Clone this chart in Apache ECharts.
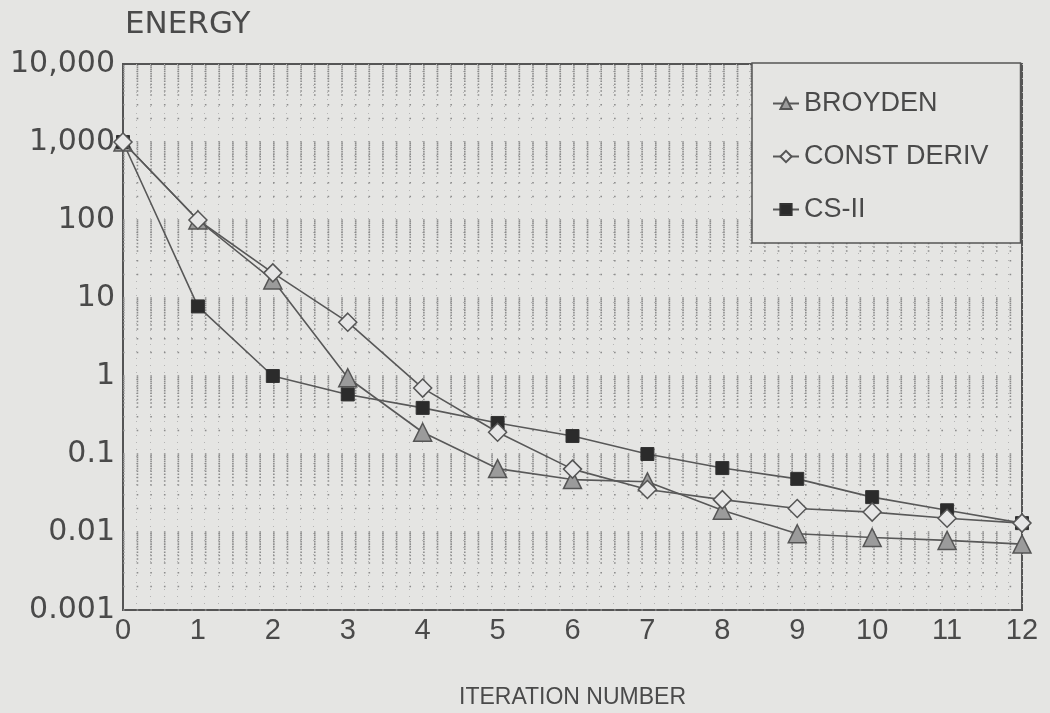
<!DOCTYPE html>
<html>
<head>
<meta charset="utf-8">
<title>Energy vs iteration</title>
<script src="https://cdn.jsdelivr.net/npm/echarts@6/dist/echarts.min.js"></script>
<style>
  html, body { margin: 0; padding: 0; background: #e5e5e3; }
  #chart { width: 1050px; height: 713px; }
</style>
</head>
<body>
<div id="chart"></div>
<script>
  // iteration numbers on the x axis
  const iterations = [0, 1, 2, 3, 4, 5, 6, 7, 8, 9, 10, 11, 12]

  // energy per iteration
  const broyden = [1000, 100, 17, 0.95, 0.19, 0.065, 0.047, 0.044, 0.019, 0.0095, 0.0085, 0.0078, 0.007]
  const constDeriv = [1000, 100, 21, 4.9, 0.7, 0.19, 0.064, 0.035, 0.026, 0.02, 0.018, 0.015, 0.013]
  const csII = [1000, 7.8, 1.0, 0.58, 0.39, 0.25, 0.17, 0.1, 0.066, 0.048, 0.028, 0.019, 0.013]

  // y tick labels
  const yTickValues = [0.001, 0.01, 0.1, 1, 10, 100, 1000, 10000]
  const yTickLabels = ['0.001', '0.01', '0.1', '1', '10', '100', '1,000', '10,000']

  // dotted grid rows inside each decade
  const minorSteps = [1, 2, 3, 4, 4.5, 5, 5.5, 6, 6.5, 7, 7.5, 8, 8.5, 9, 9.5]
  const decades = [0.001, 0.01, 0.1, 1, 10, 100, 1000]

  const gridRows = []
  decades.forEach(d => minorSteps.forEach(k => gridRows.push([0, +(d * k).toPrecision(3)])))

  const ink = '#4a4a4a'
  const lineColor = '#585858'

  const toPairs = arr => arr.map((v, i) => [iterations[i], v])

  const chart = echarts.init(document.getElementById('chart'))

  chart.setOption({
    backgroundColor: '#e5e5e3',
    animation: false,
    grid: {
      left: 123,
      right: 28,
      top: 64,
      bottom: 103,
      outerBoundsMode: 'none',
      containLabel: false,
      show: true,
      borderColor: '#555',
      borderWidth: 2,
      backgroundColor: 'transparent'
    },
    legend: {
      data: ['BROYDEN', 'CONST DERIV', 'CS-II'],
      orient: 'vertical',
      left: 752,
      top: 63,
      padding: [27, 32, 20, 20],
      itemGap: 26,
      itemWidth: 26,
      itemHeight: 14,
      backgroundColor: '#e5e5e3',
      borderColor: '#555',
      borderWidth: 1.5,
      textStyle: {
        fontFamily: 'Liberation Sans',
        fontSize: 27,
        color: ink,
        lineHeight: 26
      }
    },
    xAxis: [
      {
        type: 'value',
        min: 0,
        max: 12,
        interval: 1,
        name: 'ITERATION NUMBER',
        nameLocation: 'middle',
        nameGap: 76,
        nameTextStyle: {
          fontFamily: 'Liberation Sans',
          fontSize: 23,
          color: ink
        },
        axisLine: { lineStyle: { color: '#555', width: 2 } },
        axisTick: { show: false },
        splitLine: { show: false },
        axisLabel: {
          margin: 6,
          fontFamily: 'Liberation Sans',
          fontSize: 29,
          color: ink
        }
      },
      {
        // hidden axis, only used for the dotted columns
        type: 'value',
        min: 0,
        max: 66,
        interval: 1,
        show: true,
        position: 'bottom',
        axisLine: { show: false },
        axisTick: { show: false },
        axisLabel: { show: false },
        splitLine: {
          show: true,
          lineStyle: { color: '#b4b4b4', width: 1, type: [1, 6] }
        }
      }
    ],
    yAxis: {
      type: 'log',
      logBase: 10,
      min: 0.001,
      max: 10000,
      splitNumber: 7,
      name: 'ENERGY',
      nameLocation: 'end',
      nameGap: 24,
      nameTextStyle: {
        align: 'left',
        fontFamily: 'DejaVu Sans',
        fontSize: 31,
        color: ink,
        padding: [0, 0, 0, 2]
      },
      axisLine: { lineStyle: { color: '#555', width: 2 } },
      axisTick: { show: false },
      splitLine: { show: false },
      axisLabel: {
        margin: 8,
        fontFamily: 'DejaVu Sans',
        fontSize: 30,
        color: ink,
        formatter: v => {
          const i = yTickValues.findIndex(t => Math.abs(Math.log10(t) - Math.log10(v)) < 1e-6)
          return i >= 0 ? yTickLabels[i] : ''
        }
      }
    },
    series: [
      {
        name: 'grid-dots',
        type: 'custom',
        silent: true,
        z: 1,
        data: gridRows,
        renderItem: (params, api) => {
          const y = api.coord([0, api.value(1)])[1]
          const cs = params.coordSys
          return {
            type: 'line',
            shape: { x1: cs.x, y1: y, x2: cs.x + cs.width, y2: y },
            style: { stroke: '#8c8c8c', lineWidth: 1.6, lineDash: [1.6, 12.04] }
          }
        }
      },
      {
        name: 'BROYDEN',
        type: 'line',
        data: toPairs(broyden),
        symbol: 'triangle',
        symbolSize: 18,
        z: 3,
        lineStyle: { color: lineColor, width: 1.6 },
        itemStyle: { color: '#9b9b9b', borderColor: '#555', borderWidth: 1.5 }
      },
      {
        name: 'CONST DERIV',
        type: 'line',
        data: toPairs(constDeriv),
        symbol: 'diamond',
        symbolSize: 18,
        z: 4,
        lineStyle: { color: lineColor, width: 1.6 },
        itemStyle: { color: '#e6e6e6', borderColor: '#555', borderWidth: 1.5 }
      },
      {
        name: 'CS-II',
        type: 'line',
        data: toPairs(csII),
        symbol: 'rect',
        symbolSize: 13,
        z: 3,
        lineStyle: { color: lineColor, width: 1.6 },
        itemStyle: { color: '#2b2b2b', borderColor: '#333', borderWidth: 1 }
      }
    ]
  })
</script>
</body>
</html>
